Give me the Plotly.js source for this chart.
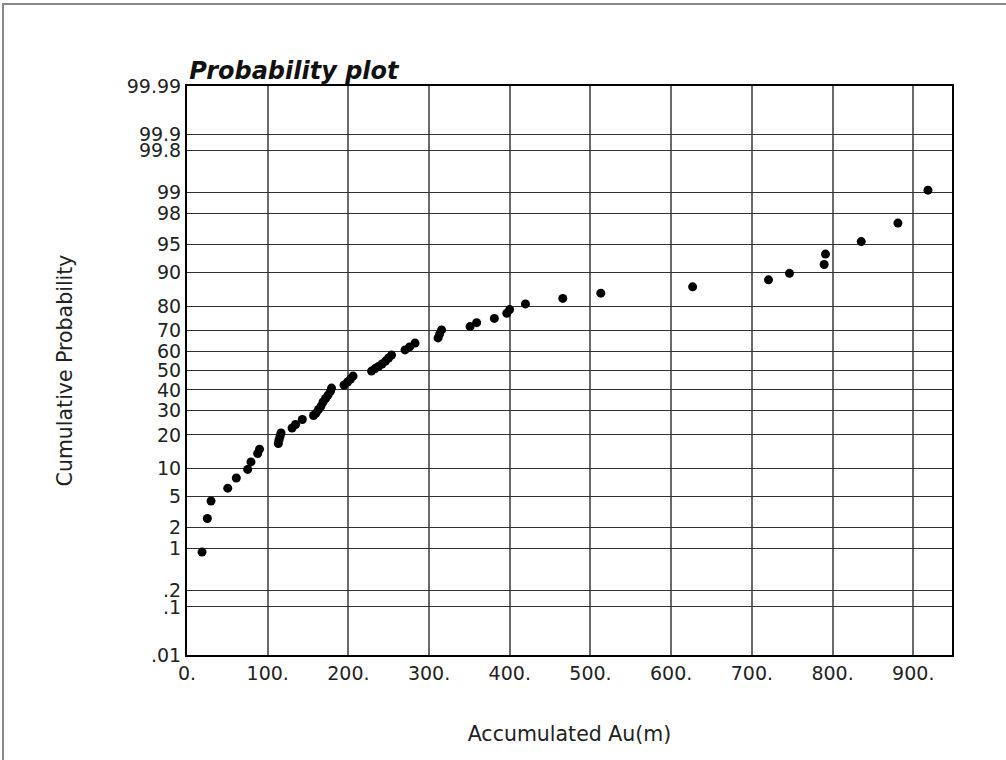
<!DOCTYPE html>
<html>
<head>
<meta charset="utf-8">
<script src="https://cdn.plot.ly/plotly-3.0.1.min.js"></script>
<style>
  html, body { margin: 0; padding: 0; background: #fff; }
  #chart { width: 1006px; height: 760px; }
  #frame { position: absolute; left: 2px; top: 3px; width: 1100px; height: 900px;
           border-left: 2px solid #888; border-top: 2px solid #888; pointer-events: none; }
</style>
</head>
<body>
<div id="chart"></div>
<div id="frame"></div>
<script>
// Accumulated Au(m) values (x) and their cumulative probability (%)
const accumulatedAu = [
  18.6, 25.2, 29.8, 50.5, 61.1, 75.2, 79.3, 87.6, 89.9, 113.2,
  114.0, 115.3, 116.5, 130.2, 134.5, 142.9, 156.8, 159.9, 163.0, 166.1,
  168.6, 171.7, 174.8, 177.9, 179.1, 194.6, 199.0, 202.7, 205.8, 228.7,
  233.0, 237.4, 241.7, 246.1, 249.8, 253.5, 270.2, 275.8, 282.6, 311.1,
  313.0, 315.5, 350.8, 358.9, 380.9, 396.3, 399.8, 419.4, 465.7, 512.8,
  626.6, 720.6, 746.6, 789.6, 791.2, 835.5, 881.0, 918.2
];
const cumulativeProb = [
  0.88, 2.65, 4.4, 6.2, 8.0, 9.8, 11.6, 13.9, 15.2, 17.0,
  18.2, 19.4, 20.7, 22.6, 24.0, 26.1, 27.8, 28.9, 30.5, 32.1,
  34.0, 35.7, 37.4, 39.4, 40.9, 42.5, 44.0, 45.6, 47.1, 49.7,
  51.0, 52.1, 53.4, 54.9, 56.5, 58.0, 60.6, 62.1, 64.0, 66.5,
  68.3, 70.2, 71.7, 73.4, 75.2, 77.3, 78.7, 80.8, 82.7, 84.4,
  86.3, 88.2, 89.8, 91.7, 93.6, 95.4, 97.3, 99.08
];
const probTicks = [0.01, 0.1, 0.2, 1, 2, 5, 10, 20, 30, 40, 50, 60, 70, 80, 90, 95, 98, 99, 99.8, 99.9, 99.99];
const probTickLabels = [".01", ".1", ".2", "1", "2", "5", "10", "20", "30", "40", "50", "60", "70", "80", "90", "95", "98", "99", "99.8", "99.9", "99.99"];
const xTicks = [0, 100, 200, 300, 400, 500, 600, 700, 800, 900];
const xTickLabels = ["0.", "100.", "200.", "300.", "400.", "500.", "600.", "700.", "800.", "900."];

// inverse standard normal CDF (Acklam) for the probability scale
function normInv(p) {
  const a = [-3.969683028665376e+01, 2.209460984245205e+02, -2.759285104469687e+02, 1.383577518672690e+02, -3.066479806614716e+01, 2.506628277459239e+00];
  const b = [-5.447609879822406e+01, 1.615858368580409e+02, -1.556989798598866e+02, 6.680131188771972e+01, -1.328068155288572e+01];
  const c = [-7.784894002430293e-03, -3.223964580411365e-01, -2.400758277161838e+00, -2.549732539343734e+00, 4.374664141464968e+00, 2.938163982698783e+00];
  const d = [7.784695709041462e-03, 3.224671290700398e-01, 2.445134137142996e+00, 3.754408661907416e+00];
  const pl = 0.02425, ph = 1 - pl;
  let q, r;
  if (p < pl) {
    q = Math.sqrt(-2 * Math.log(p));
    return (((((c[0]*q+c[1])*q+c[2])*q+c[3])*q+c[4])*q+c[5]) / ((((d[0]*q+d[1])*q+d[2])*q+d[3])*q+1);
  } else if (p <= ph) {
    q = p - 0.5; r = q * q;
    return (((((a[0]*r+a[1])*r+a[2])*r+a[3])*r+a[4])*r+a[5])*q / (((((b[0]*r+b[1])*r+b[2])*r+b[3])*r+b[4])*r+1);
  } else {
    q = Math.sqrt(-2 * Math.log(1 - p));
    return -(((((c[0]*q+c[1])*q+c[2])*q+c[3])*q+c[4])*q+c[5]) / ((((d[0]*q+d[1])*q+d[2])*q+d[3])*q+1);
  }
}
const z = v => normInv(v / 100);

const font = "DejaVu Sans, Arial, sans-serif";

const trace = {
  type: 'scatter', mode: 'markers',
  x: accumulatedAu,
  y: cumulativeProb.map(z),
  marker: { color: '#000', size: 9 },
  hoverinfo: 'x+text',
  text: cumulativeProb.map(String)
};

const layout = {
  width: 1006, height: 760,
  margin: { l: 187, r: 54, t: 86, b: 105 },
  paper_bgcolor: '#fff', plot_bgcolor: '#fff',
  showlegend: false,
  font: { family: font, color: '#222', size: 19 },
  title: {
    text: '<b><i>Probability plot</i></b>',
    font: { family: font, size: 24, color: '#111' },
    xref: 'paper', x: 0.003, xanchor: 'left',
    yref: 'container', y: 1 - 71 / 760, yanchor: 'middle'
  },
  xaxis: {
    range: [0, 948],
    tickmode: 'array', tickvals: xTicks, ticktext: xTickLabels,
    showgrid: true, gridcolor: '#6a6a6a', gridwidth: 2,
    showline: true, linecolor: '#000', linewidth: 2, mirror: true,
    ticks: '', zeroline: false,
    tickfont: { family: font, size: 19, color: '#222' },
    title: { text: 'Accumulated Au(m)', font: { family: font, size: 20.5, color: '#222' }, standoff: 44 }
  },
  yaxis: {
    range: [z(0.01), z(99.99)],
    tickmode: 'array', tickvals: probTicks.map(z), ticktext: probTickLabels,
    showgrid: true, gridcolor: '#333', gridwidth: 1,
    showline: true, linecolor: '#000', linewidth: 2, mirror: true,
    ticks: '', zeroline: false,
    tickfont: { family: font, size: 19, color: '#222' },
    title: { text: 'Cumulative Probability', font: { family: font, size: 20.5, color: '#222' }, standoff: 49 }
  }
};

Plotly.newPlot('chart', [trace], layout, { displayModeBar: false, staticPlot: true });
</script>
</body>
</html>
